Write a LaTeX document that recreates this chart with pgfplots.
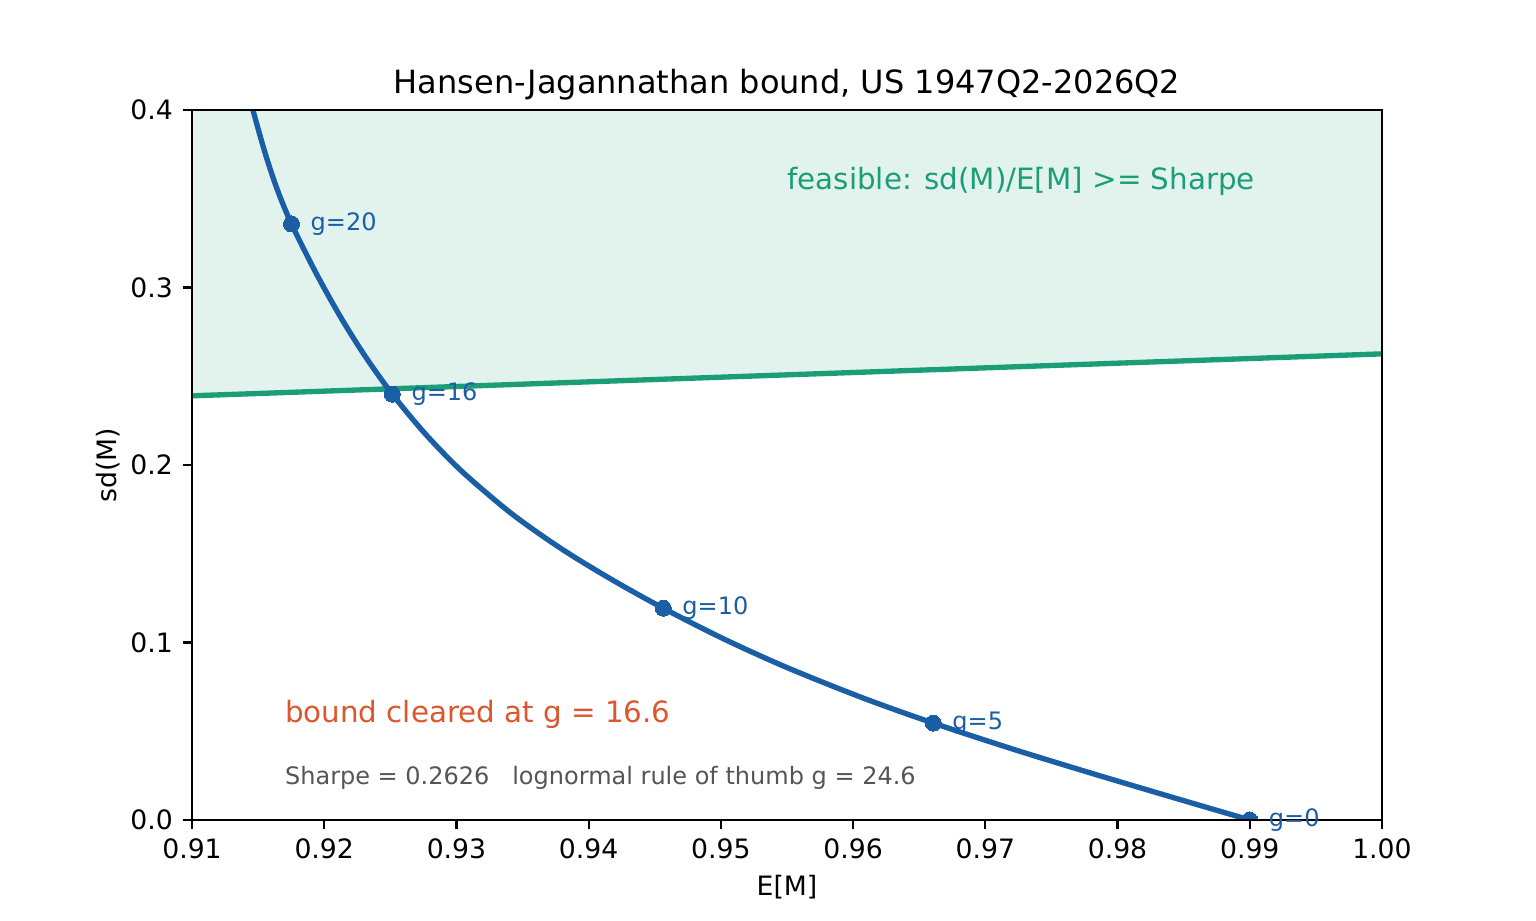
\documentclass[border=0pt]{standalone}
\usepackage{pgfplots}
\pgfplotsset{compat=1.18}
\usepackage{fontspec}
\setmainfont{DejaVu Sans}
\definecolor{hjblue}{RGB}{26,94,166}
\definecolor{hjgreen}{RGB}{27,158,119}
\definecolor{hjfill}{RGB}{226,243,237}
\definecolor{hjorange}{RGB}{220,87,45}
\definecolor{hjgray}{RGB}{85,85,85}
\begin{document}
\begin{tikzpicture}
\useasboundingbox (-72pt,-37.875pt) rectangle (504pt,307.5pt);
\begin{axis}[
  name=ax, at={(0,0)}, anchor=south west,
  scale only axis, width=446.25pt, height=266.25pt,
  xmin=0.91, xmax=1.0, ymin=0, ymax=0.4,
  xtick={0.91,0.92,0.93,0.94,0.95,0.96,0.97,0.98,0.99,1.0},
  ytick={0,0.1,0.2,0.3,0.4},
  xtick pos=bottom, ytick pos=left,
  scaled x ticks=false, scaled y ticks=false,
  x tick label style={/pgf/number format/fixed, /pgf/number format/fixed zerofill, /pgf/number format/precision=2, anchor=north, inner sep=0pt, yshift=-3.5pt},
  y tick label style={/pgf/number format/fixed, /pgf/number format/fixed zerofill, /pgf/number format/precision=1, anchor=east, inner sep=0pt, xshift=-3.5pt},
  /pgf/number format/assume math mode=true,
  tick label style={font=\fontsize{10}{12}\selectfont},
  tick align=outside, major tick length=3.5pt,
  tick style={black, line width=0.8pt},
  axis line style={line width=0.8pt},
  clip mode=individual,
  clip marker paths=true,
  axis on top,
]
\addplot[draw=none, fill=hjfill] coordinates {(0.91,0.238966) (1.0,0.2626) (1.0,0.4) (0.91,0.4)} -- cycle;
\addplot[hjgreen, line width=2pt] coordinates {(0.91,0.238966) (1.0,0.2626)};
\addplot[hjblue, line width=2pt, smooth, line join=round] coordinates {
(0.913885,0.422024)
(0.914613,0.399980)
(0.915532,0.375671)
(0.916448,0.355217)
(0.917525,0.335802)
(0.919385,0.308070)
(0.921226,0.283501)
(0.923070,0.261583)
(0.925150,0.239899)
(0.927697,0.217104)
(0.930484,0.195913)
(0.934214,0.172351)
(0.937958,0.152690)
(0.941717,0.135584)
(0.945645,0.119290)
(0.950231,0.101958)
(0.954994,0.085900)
(0.960741,0.068750)
(0.966065,0.054595)
(0.972339,0.039333)
(0.978191,0.025967)
(0.984078,0.012937)
(0.990000,0.000000)
};
\addplot[only marks, mark=*, mark size=3pt, mark options={draw=hjblue, fill=hjblue, line width=0pt}] coordinates {
(0.917525,0.335802) (0.925150,0.239899) (0.945645,0.119290) (0.966065,0.054595) (0.99,0)
};
\coordinate (T) at (rel axis cs:0.5,1);
\coordinate (B) at (rel axis cs:0.5,0);
\coordinate (L) at (rel axis cs:0,0.5);
\coordinate (g20) at (axis cs:0.917525,0.335802);
\coordinate (g16) at (axis cs:0.925150,0.239899);
\coordinate (g10) at (axis cs:0.945645,0.119290);
\coordinate (g5) at (axis cs:0.966065,0.054595);
\coordinate (g0) at (axis cs:0.99,0);
\coordinate (feas) at (axis cs:0.955,0.355);
\coordinate (bnd) at (axis cs:0.917,0.055);
\coordinate (shp) at (axis cs:0.917,0.02);
\end{axis}
\node[anchor=base, inner sep=0pt, font=\fontsize{12}{14}\selectfont] at ([yshift=6pt]T) {Hansen-Jagannathan bound, US 1947Q2-2026Q2};
\node[anchor=base, inner sep=0pt, font=\fontsize{10}{12}\selectfont] at ([yshift=-28.5pt]B) {E[M]};
\node[anchor=base, rotate=90, inner sep=0pt, font=\fontsize{10}{12}\selectfont] at ([xshift=-28.3pt]L) {sd(M)};
\foreach \c/\t in {g20/g=20, g16/g=16, g10/g=10, g5/g=5, g0/g=0} {
  \node[anchor=west, inner sep=0pt, xshift=7pt, text=hjblue, font=\fontsize{9}{11}\selectfont] at (\c) {\t};
}
\node[anchor=base west, inner sep=0pt, text=hjgreen, font=\fontsize{11}{13}\selectfont] at (feas) {feasible: sd(M)/E[M] >= Sharpe};
\node[anchor=base west, inner sep=0pt, text=hjorange, font=\fontsize{11}{13}\selectfont] at (bnd) {bound cleared at g = 16.6};
\node[anchor=base west, inner sep=0pt, text=hjgray, font=\fontsize{9}{11}\selectfont] at (shp) {Sharpe = 0.2626\ \ \ lognormal rule of thumb g = 24.6};
\end{tikzpicture}
\end{document}
